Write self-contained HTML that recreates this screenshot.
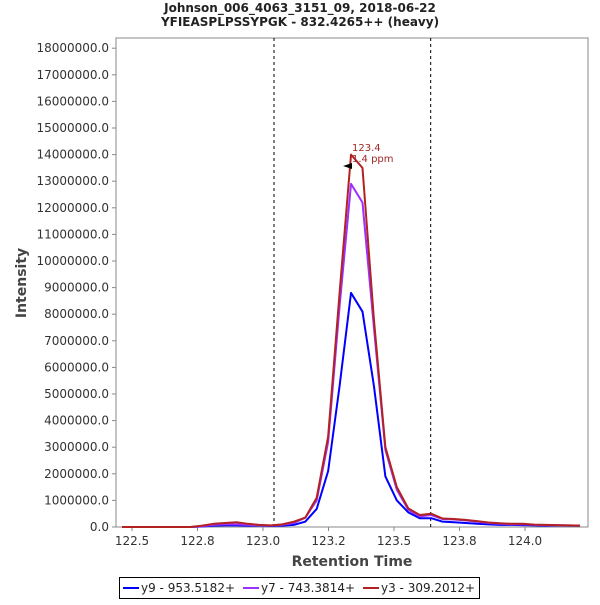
<!DOCTYPE html>
<html><head><meta charset="utf-8"><style>
body{margin:0;background:#fff;}
svg text{font-family:"DejaVu Sans","Liberation Sans",sans-serif;}
</style></head><body>
<svg id="c" width="600" height="600" xmlns="http://www.w3.org/2000/svg">
<text x="300" y="12" text-anchor="middle" font-size="12" font-weight="bold" fill="#222">Johnson_006_4063_3151_09, 2018-06-22</text>
<text x="300" y="26" text-anchor="middle" font-size="12" font-weight="bold" fill="#222">YFIEASPLPSSYPGK - 832.4265++ (heavy)</text>
<rect x="116" y="38" width="472" height="489" fill="#fff" stroke="#888"/>
<g id="axes"></g>
<g id="series"></g>
<text x="352" y="151" font-size="10" fill="#a02828">123.4</text>
<text x="352" y="162" font-size="10" fill="#a02828">1.4 ppm</text>
<polygon points="343,166 352,163 352,169" fill="#000"/>
<text x="352" y="566" text-anchor="middle" font-size="14" font-weight="bold" fill="#444">Retention Time</text>
<text transform="translate(26,283) rotate(-90)" text-anchor="middle" font-size="14" font-weight="bold" fill="#444">Intensity</text>
<g>
<rect x="119.5" y="577.5" width="360" height="21" fill="#fff" stroke="#000"/>
<line x1="123" y1="588" x2="139" y2="588" stroke="#0000ff" stroke-width="2"/>
<text x="141" y="592" font-size="12" fill="#222">y9 - 953.5182+</text>
<line x1="243" y1="588" x2="259" y2="588" stroke="#9b30ff" stroke-width="2"/>
<text x="261" y="592" font-size="12" fill="#222">y7 - 743.3814+</text>
<line x1="363" y1="588" x2="379" y2="588" stroke="#b22222" stroke-width="2"/>
<text x="381" y="592" font-size="12" fill="#222">y3 - 309.2012+</text>
</g>
</svg>
<script>
const times=[];for(let i=0;i<=40;i++)times.push(+(122.462+0.0437*i).toFixed(4));
const y9=[0,0,0,0,0,0,0,0.02,0.05,0.06,0.06,0.05,0.05,0.04,0.05,0.08,0.2,0.68,2.1,5.3,8.8,8.1,5.3,1.9,1.0,0.55,0.33,0.33,0.2,0.18,0.15,0.12,0.1,0.08,0.08,0.07,0.06,0.05,0.06,0.05,0.05];
const y7=[0,0,0,0,0,0,0,0.03,0.08,0.1,0.1,0.08,0.06,0.05,0.08,0.15,0.35,1.0,3.2,8.3,12.9,12.2,7.5,2.9,1.4,0.65,0.4,0.45,0.3,0.28,0.25,0.2,0.15,0.12,0.1,0.1,0.08,0.07,0.06,0.06,0.05];
const y3=[0,0,0,0,0,0,0,0.05,0.12,0.15,0.18,0.12,0.08,0.06,0.1,0.2,0.35,1.1,3.4,8.8,14.0,13.5,7.8,3.0,1.5,0.7,0.45,0.5,0.32,0.3,0.27,0.22,0.17,0.14,0.12,0.12,0.09,0.08,0.07,0.06,0.05];
const yTicks=[0,1,2,3,4,5,6,7,8,9,10,11,12,13,14,15,16,17,18];
const xTicks=[122.5,122.75,123.0,123.25,123.5,123.75,124.0];
const xTickLabels=["122.5","122.8","123.0","123.2","123.5","123.8","124.0"];
const boundaries=[123.042,123.64];
const NS="http://www.w3.org/2000/svg";
const X=t=>132+(t-122.5)*262;
const Y=v=>527-v*26.6;
function mk(tag,attrs,parent){const e=document.createElementNS(NS,tag);for(const k in attrs)e.setAttribute(k,attrs[k]);parent.appendChild(e);return e;}
const ax=document.getElementById('axes');
yTicks.forEach(v=>{
 const l=mk('line',{x1:112,x2:116,y1:Y(v),y2:Y(v),stroke:'#888'},ax);
 
 
 const t=mk('text',{x:109,y:Y(v)+4,'text-anchor':'end','font-size':12,fill:'#333'},ax);
 t.textContent=(v*1000000).toFixed(1);
 
 
});
xTicks.forEach((v,i)=>{
 const l=mk('line',{x1:X(v),x2:X(v),y1:527,y2:531,stroke:'#888'},ax);
 
 
 const t=mk('text',{x:X(v),y:545,'text-anchor':'middle','font-size':12,fill:'#333'},ax);
 t.textContent=xTickLabels[i];
 
 
});
boundaries.forEach(b=>{
 const l=mk('line',{x1:X(b),x2:X(b),y1:38,y2:527,stroke:'#000','stroke-dasharray':'3,3','stroke-width':1},ax);
 
 
});
const sg=document.getElementById('series');
[[y9,'#0000ff','series-y9'],[y7,'#9b30ff','series-y7'],[y3,'#b22222','series-y3']].forEach(([d,c,n])=>{
 const p=mk('polyline',{points:d.map((v,i)=>X(times[i])+','+Y(v)).join(' '),fill:'none',stroke:c,'stroke-width':2,'stroke-linejoin':'round'},sg);
 
 
});
</script>
</body></html>
